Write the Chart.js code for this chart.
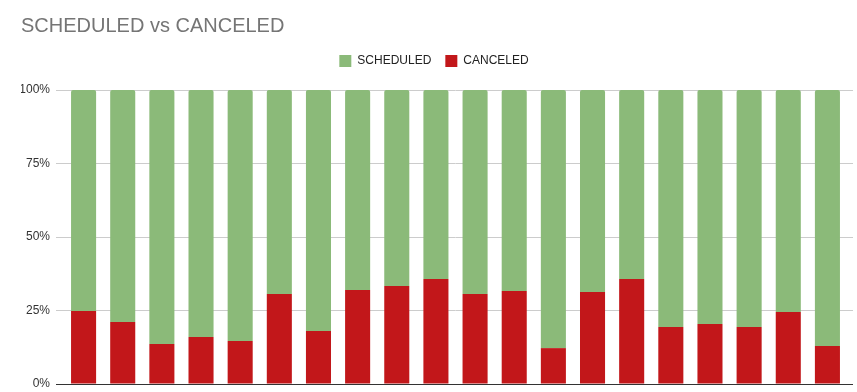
<!DOCTYPE html>
<html>
<head>
<meta charset="utf-8">
<script src="https://cdn.jsdelivr.net/npm/chart.js@4.4.1/dist/chart.umd.min.js"></script>
<style>
  html, body { margin: 0; padding: 0; background: #fff; }
  #wrap { width: 857px; height: 392px; }
</style>
</head>
<body>
<div id="wrap"><canvas id="chart" width="857" height="392"></canvas></div>
<script>
// x labels are cut off in the original, so categories are just numbered
const categories = ["1", "2", "3", "4", "5", "6", "7", "8", "9", "10",
                    "11", "12", "13", "14", "15", "16", "17", "18", "19", "20"];
// share of each bar, in percent
const canceled  = [24.8, 21.1, 13.6, 16.0, 14.6, 30.6, 18.0, 32.0, 33.3, 35.7,
                   30.6, 31.6, 12.2, 31.3, 35.7, 19.4, 20.4, 19.4, 24.5, 12.9];
const scheduled = [75.2, 78.9, 86.4, 84.0, 85.4, 69.4, 82.0, 68.0, 66.7, 64.3,
                   69.4, 68.4, 87.8, 68.7, 64.3, 80.6, 79.6, 80.6, 75.5, 87.1];
const yTicks = [0, 25, 50, 75, 100];

const FONT = "'Liberation Sans', Arial, sans-serif";

// a bit more room under the legend than chart.js gives by default
const legendGap = {
    id: "legendGap",
    afterInit(chart) {
        const fit = chart.legend.fit;
        chart.legend.fit = function () {
            fit.call(this);
            this.height += 13;
        };
    }
};

// gridlines run a few px past the last bar, like the sheets chart
const gridRight = {
    id: "gridRight",
    beforeDatasetsDraw(chart) {
        const y = chart.scales.y, area = chart.chartArea, ctx = chart.ctx;
        ctx.save();
        ctx.lineWidth = 1;
        y.ticks.forEach(t => {
            // same pixel snapping chart.js uses for its own grid
            const py = Math.round(y.getPixelForValue(t.value) - 0.5) + 0.5;
            ctx.strokeStyle = t.value === 0 ? "#333" : "#ccc";
            ctx.beginPath();
            ctx.moveTo(area.right, py);
            ctx.lineTo(area.right + 6, py);
            ctx.stroke();
        });
        ctx.restore();
    }
};

new Chart(document.getElementById("chart"), {
    type: "bar",
    data: {
        labels: categories,
        datasets: [
            { label: "CANCELED", data: canceled, backgroundColor: "#c2171a" },
            { label: "SCHEDULED", data: scheduled, backgroundColor: "#8bba79", borderRadius: 2 }
        ]
    },
    plugins: [legendGap, gridRight],
    options: {
        responsive: false,
        animation: false,
        layout: { padding: { left: 21, right: 10, top: 0, bottom: 8 } },
        datasets: { bar: { barPercentage: 0.64, categoryPercentage: 1 } },
        plugins: {
            title: {
                display: true,
                text: "SCHEDULED vs CANCELED",
                align: "start",
                color: "#757575",
                font: { family: FONT, size: 20, weight: "normal" },
                padding: { top: 14, bottom: 3 }
            },
            legend: {
                reverse: true,
                labels: {
                    boxWidth: 12,
                    boxHeight: 12,
                    padding: 14,
                    color: "#222",
                    font: { family: FONT, size: 12 }
                }
            },
            tooltip: { enabled: false }
        },
        scales: {
            x: {
                stacked: true,
                ticks: { display: false },
                grid: { display: false, drawTicks: false },
                border: { color: "#333", width: 1 },
                afterFit: (s) => { s.height = 0; s.paddingLeft = 0; s.paddingRight = 0; }
            },
            y: {
                stacked: true,
                min: 0,
                max: 100,
                afterBuildTicks: (s) => { s.ticks = yTicks.map(v => ({ value: v })); },
                ticks: {
                    padding: 6,
                    color: "#333",
                    font: { family: FONT, size: 12 },
                    callback: (v) => v + "%"
                },
                grid: {
                    color: (ctx) => ctx.tick && ctx.tick.value === 0 ? "#333" : "#ccc",
                    tickLength: 8
                },
                border: { display: false },
                afterFit: (s) => { s.width = 43; s.paddingTop = 0; s.paddingBottom = 0; }
            }
        }
    }
});
</script>
</body>
</html>
